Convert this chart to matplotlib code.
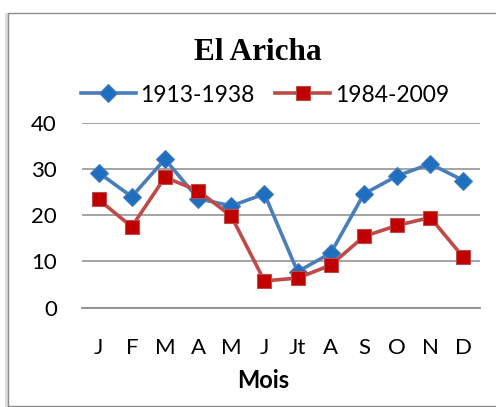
import matplotlib
matplotlib.use("Agg")
import matplotlib.pyplot as plt
from matplotlib.patches import Rectangle

months = ["J", "F", "M", "A", "M", "J", "Jt", "A", "S", "O", "N", "D"]
p1913 = [29.2, 24.0, 32.1, 23.6, 22.0, 24.6, 7.8, 11.8, 24.6, 28.5, 31.1, 27.5]
p1984 = [23.4, 17.5, 28.2, 25.3, 19.8, 5.8, 6.4, 9.2, 15.4, 17.8, 19.5, 10.9]
yticks = [0, 10, 20, 30, 40]

plt.rcParams.update({"font.family": ["Lato", "DejaVu Sans"]})

fig = plt.figure(figsize=(4.96, 4.07), dpi=100)
W, H = 496, 407
ax = fig.add_axes([82 / W, 1 - 307.7 / H, 398 / W, 185 / H])
ax.set_zorder(2)

# chart frame with a soft shadow on the left
fig.patches.append(Rectangle((5 / W, 1 - 408 / H), 4 / W, 395 / H, transform=fig.transFigure,
                             facecolor="#d8dde4", edgecolor="none", zorder=-2))
fig.patches.append(Rectangle((8 / W, 1 - 406 / H), 500 / W, 393 / H, transform=fig.transFigure,
                             facecolor="white", edgecolor="#8c8c8c", linewidth=1.0, zorder=-1))

x = list(range(len(months)))
ax.plot(x, p1913, color="#4A7EBB", lw=2.6, marker="D", ms=9,
        mfc="#1F6FC0", mec="#4A7EBB", mew=0.8, label="1913-1938", zorder=3)
ax.plot(x, p1984, color="#BE4B48", lw=2.6, marker="s", ms=9.5,
        mfc="#C00000", mec="#BE4B48", mew=0.8, label="1984-2009", zorder=4)

ax.set_xlim(-0.5, 11.5)
ax.set_ylim(0, 40)
ax.set_yticks(yticks)
ax.set_xticks(x)
ax.set_xticklabels(months)
ax.tick_params(axis="both", length=0, labelsize=16)
ax.tick_params(axis="y", pad=18)
ax.tick_params(axis="x", pad=22)
ax.yaxis.grid(True, color="#8c8c8c", linewidth=1.1)
ax.set_axisbelow(True)
for s in ["top", "right", "left"]:
    ax.spines[s].set_visible(False)
ax.spines["bottom"].set_color("#8c8c8c")
ax.spines["bottom"].set_linewidth(1.3)
ax.patch.set_alpha(0)

fig.text(257.5 / W, 1 - 53 / H, "El Aricha", ha="center", va="center",
         fontsize=22.5, fontweight="bold", family="Liberation Serif")
fig.text(263 / W, 1 - 381 / H, "Mois", ha="center", va="center",
         fontsize=17, fontweight="bold")
fig.legend(loc="center", bbox_to_anchor=(265 / W, 1 - 95 / H), ncol=2, frameon=False,
           fontsize=16.5, handlelength=2.4, handletextpad=0.2, columnspacing=0.9)

fig.savefig("out.png", dpi=100)
